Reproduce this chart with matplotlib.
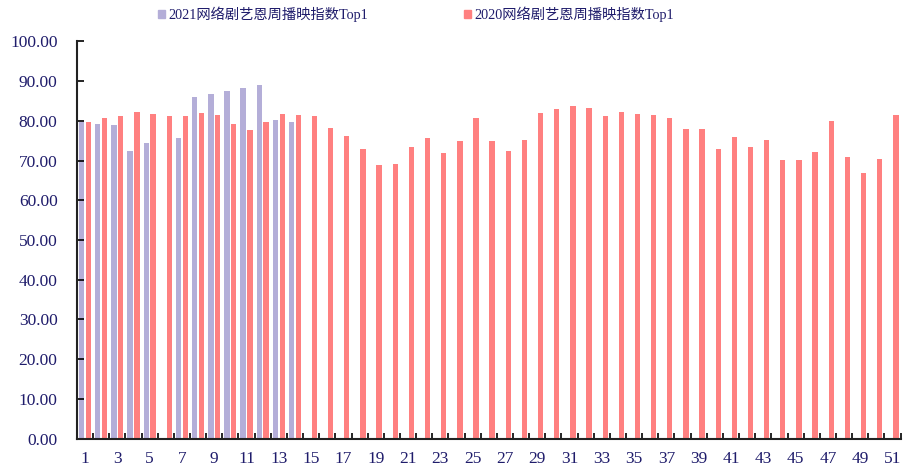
import numpy as np
import matplotlib
matplotlib.use("Agg")
import matplotlib.pyplot as plt
from matplotlib.patches import Patch

plt.rcParams['font.family'] = ['Liberation Serif', 'Noto Sans CJK SC']

# Data
weeks = np.arange(1, 52)
label_2021 = "2021网络剧艺恩周播映指数Top1"
label_2020 = "2020网络剧艺恩周播映指数Top1"
top1_2021 = [79.7, 79.1, 79.0, 72.3, 74.4, np.nan, 75.6, 85.9, 86.8, 87.4,
             88.2, 89.1, 80.2, 79.6]
top1_2020 = [79.8, 80.7, 81.1, 82.3, 81.8, 81.1, 81.1, 82.0, 81.5, 79.1,
             77.7, 79.8, 81.8, 81.5, 81.2, 78.3, 76.2, 73.0, 68.8, 69.2,
             73.5, 75.8, 71.8, 75.0, 80.8, 75.0, 72.5, 75.1, 81.9, 82.9,
             83.8, 83.2, 81.1, 82.1, 81.8, 81.5, 80.7, 77.9, 77.9, 72.8,
             76.0, 73.5, 75.1, 70.1, 70.1, 72.2, 80.0, 71.0, 66.9, 70.3,
             81.5]

c2021 = '#B4AED8'
c2020 = '#FF8080'
txt = '#1F1C6B'

fig = plt.figure(figsize=(9.09, 4.70), dpi=100)
ax = fig.add_axes([0.0847, 0.0666, 0.906, 0.8454])

w = 0.33
off = 0.21
ax.bar(weeks[:len(top1_2021)] - off, top1_2021, width=w, color=c2021)
ax.bar(weeks + off, top1_2020, width=w, color=c2020)

ax.set_xlim(0.5, 51.5)
ax.set_ylim(0, 100)

# y axis
yt = np.arange(0, 101, 10)
ax.set_yticks(yt)
ax.set_yticklabels([f"{v:.2f}" for v in yt], fontsize=12.5, color=txt)
ax.tick_params(axis='y', direction='in', length=5, width=1.2, pad=14)

# x axis: ticks between categories, labels on odd weeks
ax.set_xticks(np.arange(0.5, 52, 1))
ax.set_xticklabels([])
ax.tick_params(axis='x', which='major', direction='in', length=4, width=1.2)
ax.set_xticks(weeks[::2], minor=True)
ax.set_xticklabels([str(v) for v in weeks[::2]], minor=True, fontsize=12.5, color=txt)
ax.tick_params(axis='x', which='minor', length=0, pad=9)

for s in ['top', 'right']:
    ax.spines[s].set_visible(False)
for s in ['left', 'bottom']:
    ax.spines[s].set_linewidth(1.5)
    ax.spines[s].set_color('#222222')

handles = [Patch(color=c2021), Patch(color=c2020)]
leg = fig.legend(handles, [label_2021, label_2020], loc='center',
                 bbox_to_anchor=(0.4576, 0.969), ncol=2, frameon=False,
                 fontsize=10.3, handlelength=0.5, handleheight=0.5,
                 handletextpad=0.2, columnspacing=6.7)
for t in leg.get_texts():
    t.set_color(txt)

fig.savefig('out.png', dpi=100)
